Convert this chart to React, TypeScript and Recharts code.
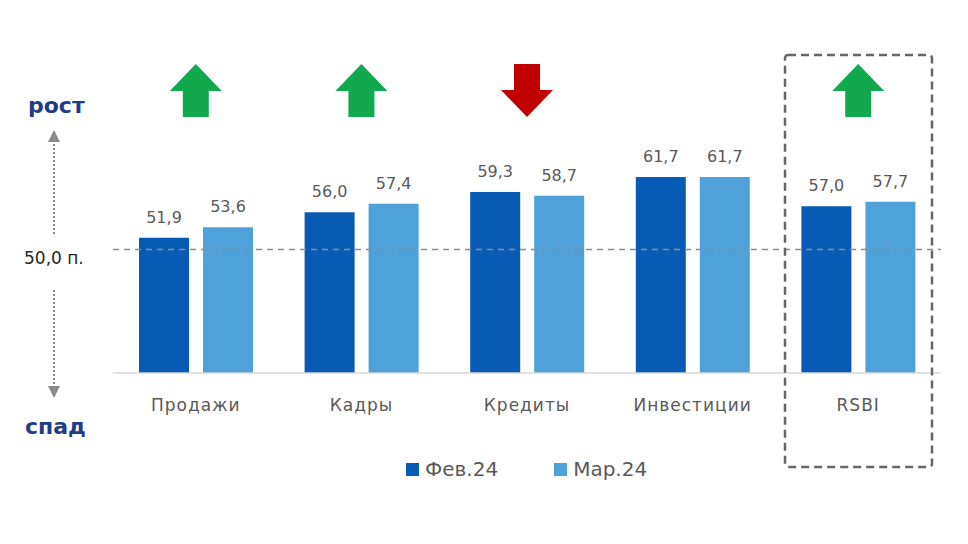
import React from "react";
import {
  BarChart,
  Bar,
  XAxis,
  YAxis,
  Legend,
  LabelList,
  ReferenceLine,
  ReferenceDot,
} from "recharts";

// RSBI index components, Feb 2024 vs Mar 2024
const categories = ["Продажи", "Кадры", "Кредиты", "Инвестиции", "RSBI"];
const feb24 = [51.9, 56.0, 59.3, 61.7, 57.0];
const mar24 = [53.6, 57.4, 58.7, 61.7, 57.7];
const trend: (string | null)[] = ["up", "up", "down", null, "up"];
const seriesNames = ["Фев.24", "Мар.24"];

const DARK = "#075BB5";
const LIGHT = "#4EA2D9";
const FONT = "'DejaVu Sans', sans-serif";

const data = categories.map((name, i) => ({
  name,
  feb: feb24[i],
  mar: mar24[i],
}));

const fmt = (v: any) => Number(v).toFixed(1).replace(".", ",");

// big block arrow above a group
function TrendArrow(props: any) {
  const { cx, cy, dir } = props;
  if (cx == null || cy == null) return null;
  const hw = 26; // head half width
  const sw = 13; // shaft half width
  const hh = 27; // head height
  const h = 53;
  const top = cy - h / 2;
  const bot = cy + h / 2;
  const pts =
    dir === "up"
      ? [
          [cx, top],
          [cx + hw, top + hh],
          [cx + sw, top + hh],
          [cx + sw, bot],
          [cx - sw, bot],
          [cx - sw, top + hh],
          [cx - hw, top + hh],
        ]
      : [
          [cx, bot],
          [cx + hw, bot - hh],
          [cx + sw, bot - hh],
          [cx + sw, top],
          [cx - sw, top],
          [cx - sw, bot - hh],
          [cx - hw, bot - hh],
        ];
  return (
    <polygon
      points={pts.map((p) => p.join(",")).join(" ")}
      fill={dir === "up" ? "#11A84E" : "#C00000"}
    />
  );
}

const renderLegend = (props: any) => {
  const payload = [...(props.payload || [])].sort(
    (a: any, b: any) => seriesNames.indexOf(a.value) - seriesNames.indexOf(b.value)
  );
  return (
    <div style={{ display: "flex", gap: 56, fontFamily: FONT, fontSize: 20, color: "#595959" }}>
      {payload.map((entry: any) => (
        <div key={entry.value} style={{ display: "flex", alignItems: "center" }}>
          <span
            style={{
              display: "inline-block",
              width: 13,
              height: 13,
              background: entry.color,
              marginRight: 6,
            }}
          />
          {entry.value}
        </div>
      ))}
    </div>
  );
};

const labelStyle = { fill: "#595959", fontSize: 16, fontFamily: FONT };

export default function App() {
  return (
    <div style={{ position: "fixed", left: 0, top: 0, width: 968, height: 544, background: "#fff" }}>
      <BarChart
        width={968}
        height={544}
        data={data}
        margin={{ top: 64, right: 27, bottom: 141, left: 113 }}
        barGap={14}
      >
        <XAxis
          dataKey="name"
          axisLine={{ stroke: "#d9d9d9", strokeWidth: 1.5 }}
          tickLine={false}
          tickMargin={20}
          height={30}
          tick={{ fill: "#595959", fontSize: 17, fontFamily: FONT, letterSpacing: 1 }}
        />
        <YAxis hide domain={[30, 80]} />
        <ReferenceLine y={50} stroke="#8c8c8c" strokeWidth={1.5} strokeDasharray="6 5" />
        <Bar dataKey="feb" name={seriesNames[0]} fill={DARK} barSize={50} isAnimationActive={false}>
          <LabelList dataKey="feb" position="top" offset={15} formatter={fmt} style={labelStyle} />
        </Bar>
        <Bar dataKey="mar" name={seriesNames[1]} fill={LIGHT} barSize={50} isAnimationActive={false}>
          <LabelList dataKey="mar" position="top" offset={15} formatter={fmt} style={labelStyle} />
        </Bar>
        {categories.map((c, i) =>
          trend[i] ? (
            <ReferenceDot
              key={c}
              x={c}
              y={75.7}
              r={0}
              ifOverflow="visible"
              shape={(p: any) => <TrendArrow {...p} dir={trend[i]} />}
            />
          ) : null
        )}
        <Legend
          verticalAlign="middle"
          align="center"
          content={renderLegend}
          wrapperStyle={{ top: 457, left: 406, width: 320 }}
        />
      </BarChart>

      {/* side annotations and RSBI frame */}
      <svg
        width={968}
        height={544}
        style={{ position: "absolute", left: 0, top: 0, pointerEvents: "none" }}
      >
        <text x={28} y={113} fill="#1F3C88" fontSize={22} fontWeight="bold" fontFamily={FONT}>
          рост
        </text>
        <text x={25} y={434} fill="#1F3C88" fontSize={22} fontWeight="bold" fontFamily={FONT}>
          спад
        </text>
        <text x={24} y={264} fill="#262626" fontSize={17} fontFamily={FONT}>
          50,0 п.
        </text>
        <line x1={54} y1={140} x2={54} y2={236} stroke="#8a8a8a" strokeWidth={2} strokeDasharray="2 2" />
        <polygon points="54,130 48,142 60,142" fill="#8a8a8a" />
        <line x1={54} y1={290} x2={54} y2={388} stroke="#8a8a8a" strokeWidth={2} strokeDasharray="2 2" />
        <polygon points="54,398 48,386 60,386" fill="#8a8a8a" />
        <rect
          x={785}
          y={55}
          width={147}
          height={412}
          rx={3}
          fill="none"
          stroke="#666"
          strokeWidth={2.5}
          strokeDasharray="8 5"
        />
      </svg>
    </div>
  );
}
